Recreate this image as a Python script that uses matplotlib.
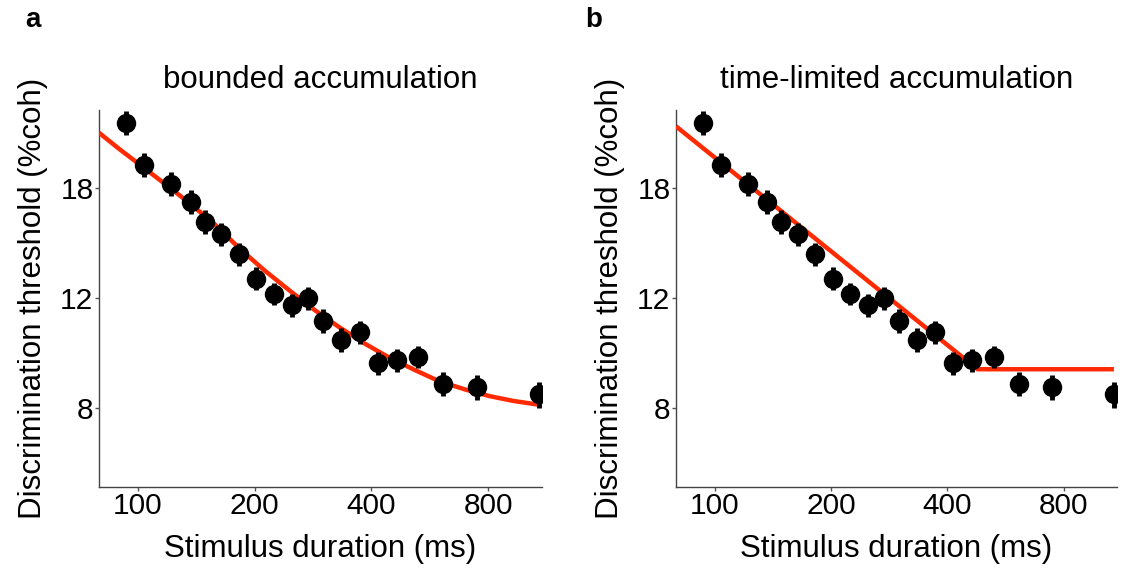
import matplotlib
matplotlib.use("Agg")
import matplotlib.pyplot as plt
from matplotlib.ticker import FixedLocator, NullLocator, FixedFormatter

plt.rcParams['font.family'] = ['Liberation Sans', 'DejaVu Sans']

# data
durations = [93.5, 104, 122, 137, 149, 164, 182, 202, 224, 249,
             274, 301, 334, 373, 415, 465, 528, 613, 748, 1078]
thresholds = [22.9, 19.6, 18.3, 17.1, 15.9, 15.2, 14.1, 12.9, 12.2, 11.7,
              12.0, 11.05, 10.3, 10.6, 9.46, 9.55, 9.68, 8.76, 8.65, 8.42]
errors = [1.0, 0.85, 0.8, 0.75, 0.7, 0.65, 0.6, 0.55, 0.5, 0.5,
          0.5, 0.5, 0.45, 0.45, 0.4, 0.4, 0.4, 0.4, 0.4, 0.4]

# fitted curve, bounded accumulation
fit_a_x = [79.5, 90, 104, 120, 136, 158, 183, 212, 246, 285, 331, 385,
           445, 520, 598, 700, 805, 930, 1078]
fit_a_y = [22.07, 20.75, 19.38, 18.1, 17.03, 15.75, 14.41, 13.3, 12.35,
           11.5, 10.78, 10.15, 9.64, 9.2, 8.84, 8.57, 8.37, 8.22, 8.11]

# fitted curve, time-limited accumulation
fit_b_x = [79.5, 479, 1080]
fit_b_y = [22.6, 9.24, 9.24]

titles = ['bounded accumulation', 'time-limited accumulation']
letters = ['a', 'b']
xticks = [100, 200, 400, 800]
yticks = [8, 12, 18]

red = '#ff2a00'
tick_fs = 21.5
lab_fs = 22.5

fig = plt.figure(figsize=(11.25, 5.68), dpi=100)
ax_a = fig.add_axes([99 / 1125, 81.5 / 568, 443 / 1125, 376.5 / 568])
ax_b = fig.add_axes([676 / 1125, 81.5 / 568, 441 / 1125, 376.5 / 568])

for ax, fx, fy, title in [(ax_a, fit_a_x, fit_a_y, titles[0]),
                          (ax_b, fit_b_x, fit_b_y, titles[1])]:
    ax.set_xscale('log')
    ax.set_yscale('log')
    ax.plot(fx, fy, color=red, lw=3.2, zorder=3, solid_capstyle='butt')
    ax.errorbar(durations, thresholds, yerr=errors, fmt='o', color='black',
                ms=13, elinewidth=3.5, capsize=0, zorder=4)
    ax.set_xlim(79.5, 1100)
    ax.set_ylim(6, 24)
    ax.xaxis.set_major_locator(FixedLocator(xticks))
    ax.xaxis.set_major_formatter(FixedFormatter([str(t) for t in xticks]))
    ax.xaxis.set_minor_locator(NullLocator())
    ax.yaxis.set_major_locator(FixedLocator(yticks))
    ax.yaxis.set_major_formatter(FixedFormatter([str(t) for t in yticks]))
    ax.yaxis.set_minor_locator(NullLocator())
    for s in ['top', 'right']:
        ax.spines[s].set_visible(False)
    for s in ['left', 'bottom']:
        ax.spines[s].set_color('#444444')
        ax.spines[s].set_linewidth(1.0)
    ax.tick_params(length=3, width=1, color='#555555', labelsize=tick_fs, pad=1)
    ax.set_xlabel('Stimulus duration (ms)', fontsize=lab_fs, labelpad=10)
    ax.set_ylabel('Discrimination threshold (%coh)', fontsize=lab_fs, labelpad=9)
    ax.set_title(title, fontsize=lab_fs, pad=16)

fig.text(25 / 1125, 1 - 20 / 568, letters[0], fontsize=20, fontweight='bold',
         va='center', ha='left')
fig.text(585 / 1125, 1 - 20 / 568, letters[1], fontsize=20, fontweight='bold',
         va='center', ha='left')

fig.savefig('out.png', dpi=100)
